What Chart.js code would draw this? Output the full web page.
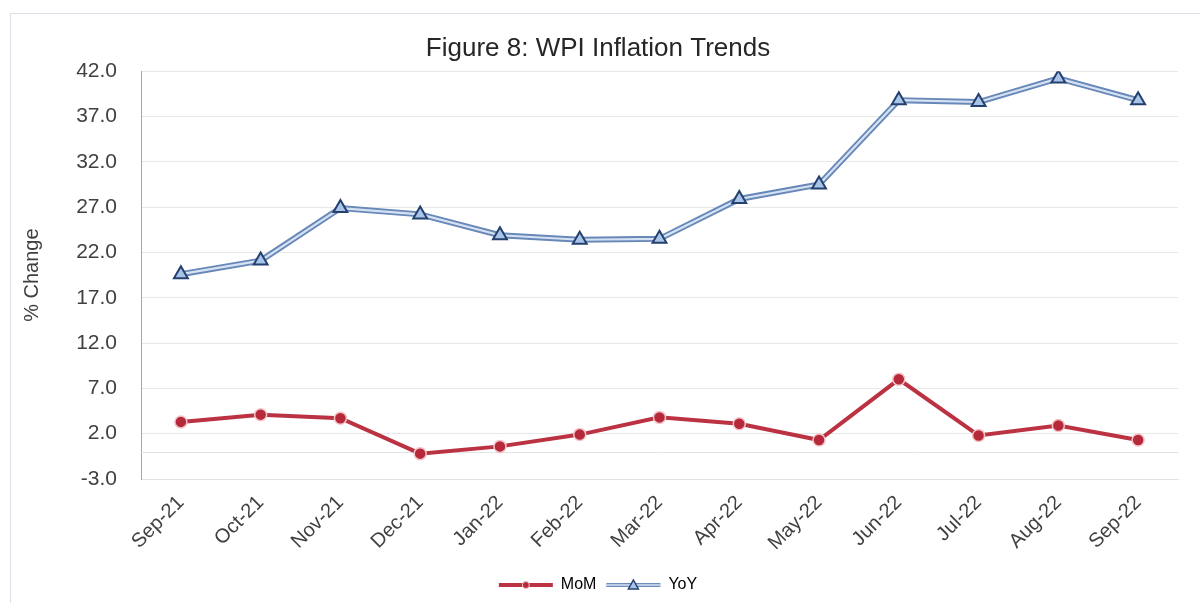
<!DOCTYPE html>
<html>
<head>
<meta charset="utf-8">
<script src="https://cdn.jsdelivr.net/npm/chart.js@4"></script>
<style>
  html, body { margin: 0; padding: 0; background: #fff; }
  #wrap { width: 1200px; height: 603px; }
</style>
</head>
<body>
<div id="wrap"><canvas id="chart" width="1200" height="603"></canvas></div>
<script>
// DATA
const months = ["Sep-21", "Oct-21", "Nov-21", "Dec-21", "Jan-22", "Feb-22", "Mar-22",
  "Apr-22", "May-22", "Jun-22", "Jul-22", "Aug-22", "Sep-22"];
const mom = [3.3, 4.1, 3.7, -0.2, 0.6, 1.9, 3.8, 3.1, 1.3, 8.0, 1.8, 2.9, 1.3];
const yoy = [19.6, 21.1, 26.9, 26.2, 23.9, 23.4, 23.5, 27.9, 29.5, 38.8, 38.6, 41.2, 38.8];
const yTicks = [-3, 2, 7, 12, 17, 22, 27, 32, 37, 42];

const FONT = "'Liberation Sans', Arial, sans-serif";

// frame, zero line, legend markers
const extras = {
  id: "extras",
  beforeDraw(chart) {
    const c = chart.ctx;
    c.save();
    c.strokeStyle = "#dbe1e8";
    c.lineWidth = 1;
    c.strokeRect(10.5, 13.5, 1200, 600);
    c.restore();
  },
  beforeDatasetsDraw(chart) {
    const c = chart.ctx;
    const y0 = Math.round(chart.scales.y.getPixelForValue(0)) + 0.5;
    c.save();
    c.strokeStyle = "#e3e3e3";
    c.lineWidth = 1;
    c.beginPath();
    c.moveTo(chart.chartArea.left, y0);
    c.lineTo(chart.chartArea.right, y0);
    c.stroke();
    c.restore();
  },
  afterDraw(chart) {
    const c = chart.ctx;
    chart.legend.legendHitBoxes.forEach((b, i) => {
      const cx = b.left + 27;
      const cy = b.top + b.height / 2;
      c.save();
      if (i === 0) {
        c.fillStyle = "#b5293a";
        c.strokeStyle = "#f3c3c8";
        c.lineWidth = 1;
        c.beginPath();
        c.arc(cx, cy, 3.5, 0, Math.PI * 2);
        c.fill();
        c.stroke();
      } else {
        c.strokeStyle = "#d5e2f4";
        c.lineWidth = 1.5;
        c.beginPath();
        c.moveTo(b.left, cy);
        c.lineTo(b.left + 54, cy);
        c.stroke();
        c.fillStyle = "#a8c4e8";
        c.strokeStyle = "#24406e";
        c.lineWidth = 1.5;
        c.beginPath();
        c.moveTo(cx, cy - 5);
        c.lineTo(cx + 5, cy + 4);
        c.lineTo(cx - 5, cy + 4);
        c.closePath();
        c.fill();
        c.stroke();
      }
      c.restore();
    });
  }
};

const ctx = document.getElementById("chart").getContext("2d");
new Chart(ctx, {
  type: "line",
  data: {
    labels: months,
    datasets: [{
      label: "MoM",
      data: mom,
      borderColor: "#bb3343",
      backgroundColor: "#b5293a",
      borderWidth: 4,
      pointRadius: 6,
      pointBackgroundColor: "#b5293a",
      pointBorderColor: "#f3c3c8",
      pointBorderWidth: 1.5,
      tension: 0,
      order: 1
    }, {
      // markers only, drawn above the double line
      label: "YoY",
      data: yoy,
      borderColor: "#6d8cbc",
      backgroundColor: "#a8c4e8",
      showLine: false,
      pointStyle: "triangle",
      pointRadius: 8,
      pointBackgroundColor: "#a8c4e8",
      pointBorderColor: "#24406e",
      pointBorderWidth: 2,
      order: 2
    }, {
      label: "yoy-outer",
      data: yoy,
      borderColor: "#6888b8",
      borderWidth: 6,
      pointRadius: 0,
      tension: 0,
      order: 4
    }, {
      label: "yoy-inner",
      data: yoy,
      borderColor: "#d5e2f4",
      borderWidth: 2.2,
      pointRadius: 0,
      tension: 0,
      order: 3
    }]
  },
  options: {
    responsive: false,
    animation: false,
    layout: { padding: { left: 18, right: 22, top: 14, bottom: 0 } },
    plugins: {
      title: {
        display: true,
        text: "Figure 8: WPI Inflation Trends",
        color: "#262626",
        font: { family: FONT, size: 26, weight: "normal" },
        padding: { top: 19, bottom: 7 }
      },
      legend: {
        position: "bottom",
        labels: {
          color: "#595959",
          font: { family: FONT, size: 16 },
          boxWidth: 54,
          boxHeight: 4,
          padding: 10,
          filter: (item) => item.datasetIndex < 2,
          generateLabels(chart) {
            return chart.data.datasets.map((ds, i) => ({
              text: ds.label,
              fillStyle: ds.borderColor,
              strokeStyle: ds.borderColor,
              lineWidth: 0,
              datasetIndex: i
            }));
          }
        }
      },
      tooltip: { enabled: false }
    },
    scales: {
      x: {
        offset: true,
        grid: { display: false, offset: true },
        border: { color: "#e3e3e3" },
        ticks: {
          color: "#404040",
          font: { family: FONT, size: 20 },
          maxRotation: 45,
          minRotation: 45,
          padding: 4
        },
        afterFit(scale) { scale.height = 88; }
      },
      y: {
        min: -3,
        max: 42,
        afterBuildTicks(scale) {
          scale.ticks = yTicks.map(v => ({ value: v }));
        },
        grid: { color: "#e8e8e8", drawTicks: false },
        border: { color: "#a6a6a6" },
        ticks: {
          color: "#404040",
          font: { family: FONT, size: 21 },
          padding: 24,
          callback: (v) => Number(v).toFixed(1)
        },
        title: {
          display: true,
          text: "% Change",
          color: "#404040",
          font: { family: FONT, size: 20 },
          padding: { top: 2, bottom: 0 }
        },
        afterFit(scale) { scale.width = 123; }
      }
    }
  },
  plugins: [extras]
});
</script>
</body>
</html>
